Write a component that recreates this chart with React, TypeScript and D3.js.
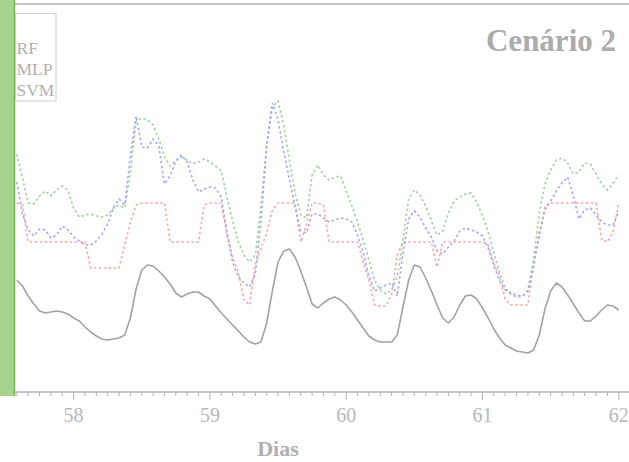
import { useEffect, useRef } from 'react';
import * as d3 from 'd3';

// ─── Datos: una lectura por hora, desde el día 57 + 14h hasta el día 62 ─────
const START_DAY = 57 + 7 / 12;
const HOUR = 1 / 24;

const real = [115, 109, 99, 91, 84, 82, 83, 84, 83, 81, 77, 74, 68, 63, 59, 56, 55, 56, 57, 60,
  77, 106, 125, 130, 129, 124, 118, 111, 102, 98, 101, 103, 103, 99, 96, 89, 82, 76, 70, 64,
  58, 53, 51, 53, 72, 104, 133, 144, 146, 138, 124, 108, 91, 87, 92, 96, 98, 95, 90, 83,
  75, 67, 59, 55, 53, 53, 53, 60, 88, 115, 130, 128, 117, 104, 90, 77, 72, 78, 90, 99,
  100, 96, 87, 77, 66, 57, 50, 47, 44, 43, 42, 45, 60, 86, 104, 112, 108, 100, 91, 82,
  74, 74, 79, 85, 90, 89, 85];

const rf = [192, 190, 153, 153, 153, 153, 153, 153, 153, 153, 153, 153, 153, 127, 127, 127, 127, 127, 127, 150,
  173, 190, 192, 192, 192, 192, 192, 153, 153, 153, 153, 153, 153, 190, 192, 192, 192, 160, 138, 123,
  95, 90, 131, 147, 162, 185, 192, 192, 192, 192, 153, 170, 192, 192, 190, 153, 153, 153, 153, 153,
  153, 133, 115, 90, 89, 89, 100, 140, 153, 153, 153, 153, 153, 153, 128, 153, 153, 153, 153, 153,
  153, 153, 153, 150, 132, 119, 96, 90, 90, 90, 90, 133, 157, 189, 192, 192, 192, 192, 192, 192,
  192, 192, 192, 155, 153, 163, 192];

const mlp = [213, 181, 165, 159, 166, 165, 157, 160, 169, 165, 158, 154, 150, 150, 154, 161, 171, 187, 196, 190,
  239, 279, 248, 247, 256, 249, 211, 219, 234, 240, 233, 215, 203, 206, 208, 207, 198, 163, 133, 118,
  112, 108, 121, 173, 250, 292, 275, 243, 216, 188, 164, 162, 181, 181, 177, 173, 175, 177, 176, 173,
  160, 142, 119, 104, 107, 110, 112, 99, 142, 176, 184, 178, 167, 158, 144, 141, 148, 154, 164, 167,
  165, 163, 159, 147, 130, 114, 105, 102, 100, 99, 104, 127, 162, 185, 194, 204, 212, 218, 199, 176,
  185, 187, 180, 173, 170, 170, 184];

const svm = [241, 217, 192, 191, 199, 204, 199, 205, 209, 205, 187, 178, 180, 181, 179, 178, 180, 187, 190, 187,
  223, 274, 277, 275, 270, 256, 238, 229, 235, 238, 235, 231, 233, 236, 233, 229, 224, 198, 174, 153,
  140, 133, 140, 189, 249, 288, 294, 269, 235, 202, 180, 177, 220, 230, 220, 215, 218, 219, 204, 189,
  173, 155, 135, 115, 105, 101, 105, 118, 155, 196, 205, 200, 189, 174, 160, 164, 182, 194, 198, 201,
  202, 193, 179, 163, 142, 123, 107, 101, 98, 98, 105, 136, 182, 211, 225, 235, 237, 232, 221, 223,
  232, 231, 221, 211, 205, 212, 220];

const legendLabels = ['RF', 'MLP', 'SVM'];
const dayTicks = [58, 59, 60, 61, 62];
const TITLE = 'Cenário 2';
const X_LABEL = 'Dias';

const SERIF = '"Liberation Serif", "Times New Roman", serif';

export default function App() {
  const svgRef = useRef<SVGSVGElement | null>(null);

  useEffect(() => {
    if (!svgRef.current) return;
    const W = 629;
    const H = 462;
    const axisY = 392;

    const svg = d3.select(svgRef.current);
    svg.selectAll('*').remove();
    svg.attr('width', W).attr('height', H);

    // ── Escalas ───────────────────────────────────────────────────────────────
    const x = d3.scaleLinear().domain([57.57, 62.075]).range([15, W]);
    const y = d3.scaleLinear().domain([0, 395]).range([395, 0]);
    const dayOf = (i: number) => START_DAY + i * HOUR;

    // ── Panel verde de la izquierda ───────────────────────────────────────────
    svg.append('rect')
      .attr('x', 0).attr('y', 0)
      .attr('width', 14).attr('height', 396)
      .attr('fill', '#a9d18e');
    svg.append('line')
      .attr('x1', 14.5).attr('x2', 14.5)
      .attr('y1', 0).attr('y2', 396)
      .attr('stroke', '#74b84a').attr('stroke-width', 1.5);

    // línea superior
    svg.append('line')
      .attr('x1', 15).attr('x2', W)
      .attr('y1', 4).attr('y2', 4)
      .attr('stroke', '#b0b0b0').attr('stroke-width', 1.6);

    // ── Series ────────────────────────────────────────────────────────────────
    const line = d3.line<number>()
      .x((_, i) => x(dayOf(i)))
      .y(d => y(d));

    const dotted = [
      { data: rf, color: '#ffa6a6' },
      { data: svm, color: '#9fd49f' },
      { data: mlp, color: '#a6a6ff' },
    ];
    dotted.forEach(s => {
      svg.append('path')
        .datum(s.data)
        .attr('fill', 'none')
        .attr('stroke', s.color)
        .attr('stroke-width', 1.6)
        .attr('stroke-dasharray', '2.5 2.5')
        .attr('d', line);
    });

    svg.append('path')
      .datum(real)
      .attr('fill', 'none')
      .attr('stroke', '#a3a3a3')
      .attr('stroke-width', 1.6)
      .attr('stroke-linejoin', 'round')
      .attr('d', line);

    // ── Eje X ─────────────────────────────────────────────────────────────────
    const minorTicks = d3.range(0, 54).map(k => START_DAY + k / 12)
      .filter(t => !dayTicks.some(d => Math.abs(d - t) < 1e-6));

    const gx = svg.append('g').attr('transform', `translate(0,${axisY})`);
    gx.append('line')
      .attr('x1', 15).attr('x2', W)
      .attr('stroke', '#b3b3b3').attr('stroke-width', 1.5);
    gx.selectAll('line.minor')
      .data(minorTicks)
      .join('line')
      .attr('class', 'minor')
      .attr('x1', d => x(d)).attr('x2', d => x(d))
      .attr('y1', 0).attr('y2', 4)
      .attr('stroke', '#b3b3b3').attr('stroke-width', 1);
    gx.selectAll('line.major')
      .data(dayTicks)
      .join('line')
      .attr('class', 'major')
      .attr('x1', d => x(d)).attr('x2', d => x(d))
      .attr('y1', 0).attr('y2', 8)
      .attr('stroke', '#b3b3b3').attr('stroke-width', 1);
    gx.selectAll('text')
      .data(dayTicks)
      .join('text')
      .attr('x', d => x(d))
      .attr('y', 29.5)
      .attr('text-anchor', 'middle')
      .attr('font-family', SERIF)
      .attr('font-size', 20)
      .attr('fill', '#b8b8b8')
      .text(d => String(d));

    svg.append('text')
      .attr('x', 278).attr('y', 456)
      .attr('text-anchor', 'middle')
      .attr('font-family', SERIF)
      .attr('font-weight', 'bold')
      .attr('font-size', 22)
      .attr('fill', '#b0b0b0')
      .text(X_LABEL);

    // ── Título ────────────────────────────────────────────────────────────────
    svg.append('text')
      .attr('x', 616).attr('y', 51)
      .attr('text-anchor', 'end')
      .attr('font-family', SERIF)
      .attr('font-weight', 'bold')
      .attr('font-size', 31)
      .attr('fill', '#acacac')
      .text(TITLE);

    // ── Leyenda ───────────────────────────────────────────────────────────────
    svg.append('rect')
      .attr('x', 15.5).attr('y', 13.5)
      .attr('width', 40.5).attr('height', 87.5)
      .attr('fill', 'white')
      .attr('stroke', '#cccccc').attr('stroke-width', 1);
    svg.selectAll('text.legend')
      .data(legendLabels)
      .join('text')
      .attr('class', 'legend')
      .attr('x', 16.5)
      .attr('y', (_, i) => 53.5 + i * 21)
      .attr('font-family', SERIF)
      .attr('font-size', 17.5)
      .attr('fill', '#b0b0b0')
      .text(d => d);
  }, []);

  return (
    <div style={{ position: 'absolute', left: 0, top: 0 }}>
      <svg ref={svgRef} style={{ display: 'block' }} />
    </div>
  );
}
